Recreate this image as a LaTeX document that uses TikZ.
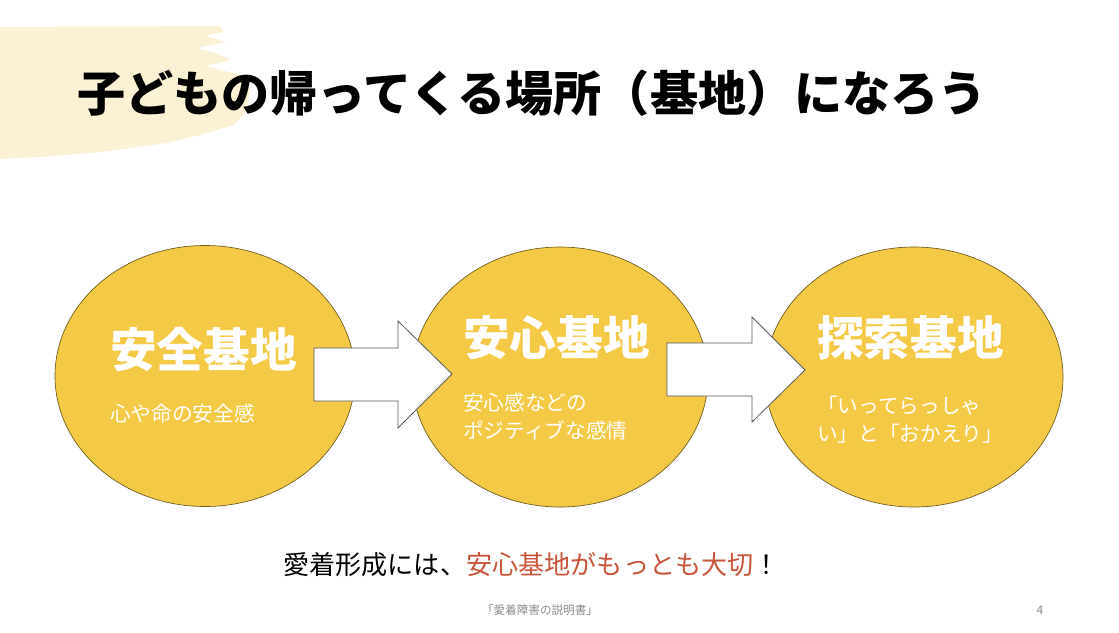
\documentclass[tikz,border=0pt]{standalone}
\usepackage{fontspec}
\setmainfont{Noto Sans CJK JP}
\usetikzlibrary{shapes.geometric}
\definecolor{cream}{HTML}{FBF1D4}
\definecolor{gold}{HTML}{F4C945}
\definecolor{goldline}{HTML}{6B5A1E}
\definecolor{accent}{HTML}{C8553A}
\definecolor{footgray}{HTML}{8A8A8A}
\tikzset{
  base/.style={ellipse, fill=gold, draw=goldline, line width=0.5pt, inner sep=0pt},
  bigarrow/.style={fill=white, draw=black!65, line width=0.6pt, line join=miter},
  circtitle/.style={text=white, font=\fontsize{35}{40}\selectfont\bfseries, inner sep=0pt, anchor=west},
  circsub/.style={text=white, font=\fontsize{15.5}{20.5}\selectfont, inner sep=0pt, anchor=north west, align=left},
}
\begin{document}
\begin{tikzpicture}[x=0.75pt,y=-0.75pt]
\useasboundingbox (0,0) rectangle (1119,632);
\fill[white] (0,0) rectangle (1119,632);
% brush stroke
\fill[cream] (0,27) -- (220,26) -- (223,32) -- (205,36) -- (226,42) -- (196,48) -- (216,53) -- (231,60) -- (206,66) -- (240,75) -- (250,90) -- (247,110) -- (234,125) -- (200,135) -- (167,143) -- (100,152) -- (40,157) -- (0,159) -- cycle;
% title
\node[inner sep=0pt, anchor=west, font=\fontsize{36.1}{40}\selectfont\bfseries] (title) at (77,93) {子どもの帰ってくる場所（基地）になろう};
% ellipses
\node[base, minimum width=300*0.75pt, minimum height=261*0.75pt] (e1) at (205,376) {};
\node[base, minimum width=296*0.75pt, minimum height=260*0.75pt] (e2) at (560,377) {};
\node[base, minimum width=298*0.75pt, minimum height=260*0.75pt] (e3) at (914,377) {};
% arrows
\coordinate (a1) at (314,348);
\draw[bigarrow] (a1) -- (398,348) -- (398,321) -- (452,374) -- (398,428) -- (398,401) -- (314,401) -- cycle;
\coordinate (a2) at (667,343);
\draw[bigarrow] (a2) -- (752,343) -- (752,317) -- (805,370) -- (752,422) -- (752,396) -- (667,396) -- cycle;
% texts in circles
\node[circtitle] (t1) at (110,350) {安全基地};
\node[circsub] (s1) at (110,404) {心や命の安全感};
\node[circtitle] (t2) at (463,338) {安心基地};
\node[circsub] (s2) at (463,393) {安心感などの\\ポジティブな感情};
\node[circtitle] (t3) at (817,338) {探索基地};
\node[circsub] (s3) at (817,396) {「いってらっしゃ\\い」と「おかえり」};
% bottom message
\node[inner sep=0pt, anchor=west, font=\fontsize{19.6}{22}\selectfont] (msg) at (283,565) {愛着形成には、\textcolor{accent}{安心基地がもっとも大切}！};
% footer
\node[inner sep=0pt, font=\fontsize{8.7}{10}\selectfont, text=footgray] (foot) at (540,610) {「愛着障害の説明書」};
\node[inner sep=0pt, font=\fontsize{9}{10}\selectfont, text=footgray] (page) at (1040,610) {4};
\end{tikzpicture}
\end{document}
